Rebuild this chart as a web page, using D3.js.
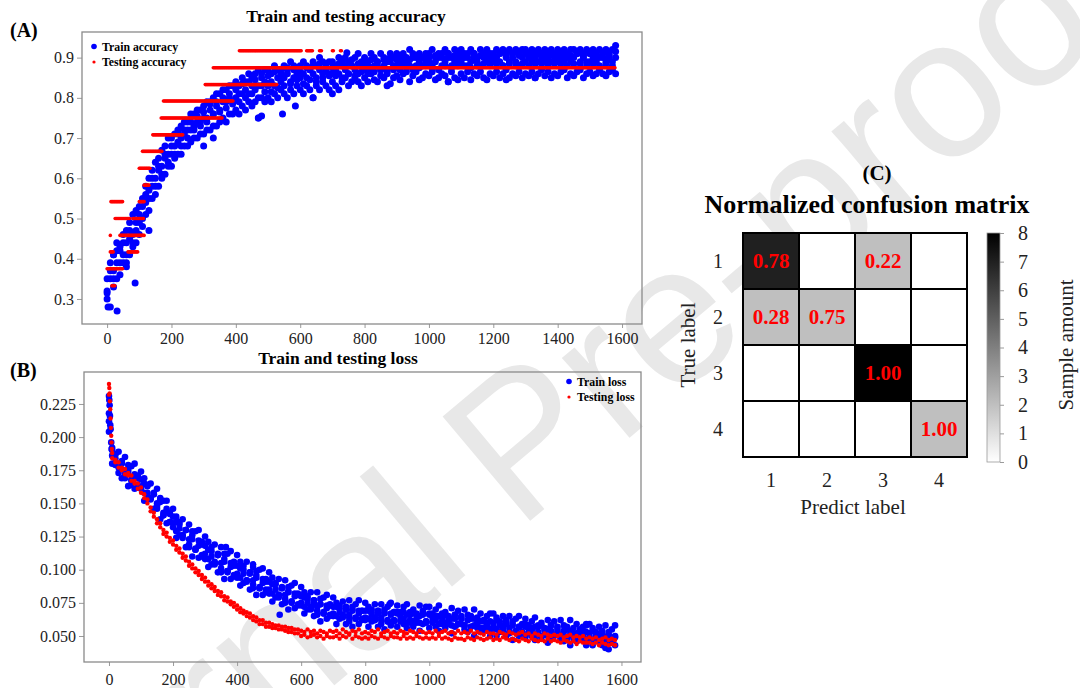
<!DOCTYPE html>
<html>
<head>
<meta charset="utf-8">
<script src="https://cdn.jsdelivr.net/npm/d3@7"></script>
<style>
body { margin: 0; background: #fff; }
svg { display: block; font-family: "Liberation Serif", "Times New Roman", serif; }
</style>
</head>
<body>
<div id="chart"></div>
<script>
// training logs, one value every 10 epochs (0 .. 1580), several samples per step
var epoch_step = 10;
var epoch_ticks = [0, 200, 400, 600, 800, 1000, 1200, 1400, 1600];
var acc_ticks = [0.3, 0.4, 0.5, 0.6, 0.7, 0.8, 0.9];
var loss_ticks = [0.05, 0.075, 0.1, 0.125, 0.15, 0.175, 0.2, 0.225];

var train_acc_lo = [
  0.30, 0.28, 0.33, 0.35, 0.36, 0.39, 0.38, 0.41, 0.43, 0.44,
  0.46, 0.48, 0.51, 0.52, 0.55, 0.56, 0.58, 0.60, 0.61, 0.63,
  0.63, 0.65, 0.66, 0.66, 0.68, 0.68, 0.69, 0.70, 0.70, 0.71,
  0.71, 0.72, 0.72, 0.73, 0.73, 0.74, 0.75, 0.74, 0.76, 0.76,
  0.77, 0.76, 0.78, 0.77, 0.79, 0.78, 0.79, 0.75, 0.80, 0.79,
  0.80, 0.79, 0.81, 0.80, 0.82, 0.81, 0.80, 0.82, 0.81, 0.83,
  0.82, 0.81, 0.83, 0.82, 0.80, 0.83, 0.82, 0.84, 0.83, 0.82,
  0.84, 0.83, 0.82, 0.84, 0.85, 0.83, 0.84, 0.85, 0.84, 0.83,
  0.85, 0.84, 0.86, 0.845, 0.84, 0.855, 0.85, 0.86, 0.835, 0.85,
  0.855, 0.845, 0.86, 0.865, 0.84, 0.855, 0.865, 0.845, 0.85, 0.86,
  0.855, 0.865, 0.845, 0.85, 0.86, 0.855, 0.84, 0.865, 0.85, 0.845,
  0.86, 0.85, 0.865, 0.845, 0.86, 0.855, 0.865, 0.85, 0.845, 0.86,
  0.855, 0.865, 0.85, 0.86, 0.87, 0.85, 0.86, 0.855, 0.865, 0.85,
  0.86, 0.855, 0.865, 0.85, 0.86, 0.87, 0.855, 0.865, 0.85, 0.86,
  0.855, 0.865, 0.87, 0.85, 0.86, 0.855, 0.865, 0.87, 0.85, 0.86,
  0.865, 0.855, 0.86, 0.87, 0.86, 0.855, 0.865, 0.87, 0.86
];
var train_acc_mid = [
  0.32, 0.35, 0.37, 0.39, 0.42, 0.41, 0.44, 0.45, 0.46, 0.49,
  0.49, 0.53, 0.54, 0.57, 0.58, 0.60, 0.62, 0.63, 0.65, 0.66,
  0.66, 0.68, 0.69, 0.70, 0.71, 0.72, 0.72, 0.73, 0.74, 0.74,
  0.75, 0.75, 0.77, 0.76, 0.78, 0.77, 0.79, 0.79, 0.80, 0.79,
  0.80, 0.81, 0.81, 0.82, 0.81, 0.83, 0.82, 0.83, 0.83, 0.84,
  0.83, 0.84, 0.83, 0.85, 0.84, 0.85, 0.86, 0.84, 0.85, 0.86,
  0.85, 0.86, 0.85, 0.87, 0.86, 0.85, 0.87, 0.86, 0.87, 0.86,
  0.86, 0.87, 0.86, 0.88, 0.87, 0.86, 0.88, 0.87, 0.86, 0.88,
  0.87, 0.88, 0.87, 0.88, 0.89, 0.87, 0.88, 0.87, 0.89, 0.88,
  0.88, 0.89, 0.88, 0.89, 0.88, 0.90, 0.88, 0.89, 0.88, 0.89,
  0.89, 0.88, 0.89, 0.90, 0.88, 0.89, 0.90, 0.88, 0.89, 0.90,
  0.89, 0.90, 0.88, 0.89, 0.90, 0.89, 0.88, 0.90, 0.89, 0.90,
  0.89, 0.90, 0.89, 0.88, 0.90, 0.89, 0.90, 0.89, 0.88, 0.90,
  0.89, 0.90, 0.89, 0.90, 0.89, 0.90, 0.89, 0.90, 0.89, 0.90,
  0.89, 0.90, 0.89, 0.90, 0.89, 0.90, 0.91, 0.89, 0.90, 0.89,
  0.89, 0.90, 0.89, 0.90, 0.90, 0.89, 0.90, 0.89, 0.90
];
var train_acc_q = [
  0.315, 0.37, 0.35, 0.42, 0.39, 0.44, 0.41, 0.47, 0.44, 0.47,
  0.51, 0.50, 0.56, 0.55, 0.60, 0.58, 0.63, 0.61, 0.66, 0.64,
  0.68, 0.66, 0.71, 0.68, 0.72, 0.70, 0.74, 0.72, 0.755, 0.73,
  0.765, 0.74, 0.785, 0.76, 0.79, 0.765, 0.80, 0.775, 0.81, 0.785,
  0.82, 0.79, 0.835, 0.80, 0.84, 0.81, 0.845, 0.80, 0.86, 0.815,
  0.855, 0.815, 0.865, 0.825, 0.87, 0.83, 0.875, 0.835, 0.87, 0.845,
  0.865, 0.835, 0.875, 0.845, 0.88, 0.84, 0.885, 0.85, 0.875, 0.855,
  0.875, 0.855, 0.885, 0.85, 0.88, 0.86, 0.895, 0.855, 0.885, 0.865,
  0.885, 0.86, 0.895, 0.865, 0.88, 0.87, 0.895, 0.865, 0.90, 0.87,
  0.895, 0.87, 0.90, 0.875, 0.895, 0.87, 0.905, 0.875, 0.90, 0.88,
  0.90, 0.875, 0.905, 0.87, 0.90, 0.88, 0.91, 0.875, 0.905, 0.88,
  0.905, 0.88, 0.90, 0.875, 0.91, 0.88, 0.905, 0.885, 0.91, 0.88,
  0.905, 0.885, 0.91, 0.88, 0.905, 0.885, 0.91, 0.88, 0.905, 0.885,
  0.91, 0.88, 0.905, 0.885, 0.91, 0.885, 0.905, 0.88, 0.91, 0.885,
  0.905, 0.885, 0.91, 0.88, 0.905, 0.885, 0.91, 0.885, 0.905, 0.88,
  0.91, 0.885, 0.905, 0.88, 0.91, 0.885, 0.905, 0.88, 0.915
];
var train_acc_hi = [
  0.35, 0.39, 0.41, 0.44, 0.43, 0.46, 0.47, 0.49, 0.51, 0.52,
  0.53, 0.55, 0.58, 0.60, 0.62, 0.64, 0.65, 0.67, 0.68, 0.70,
  0.70, 0.71, 0.72, 0.73, 0.74, 0.74, 0.76, 0.76, 0.77, 0.77,
  0.78, 0.79, 0.79, 0.80, 0.81, 0.81, 0.82, 0.82, 0.83, 0.83,
  0.84, 0.83, 0.85, 0.84, 0.86, 0.85, 0.86, 0.87, 0.85, 0.87,
  0.87, 0.86, 0.88, 0.87, 0.86, 0.88, 0.87, 0.89, 0.88, 0.87,
  0.88, 0.89, 0.88, 0.87, 0.89, 0.88, 0.90, 0.89, 0.88, 0.89,
  0.89, 0.88, 0.90, 0.89, 0.90, 0.89, 0.88, 0.90, 0.91, 0.89,
  0.90, 0.89, 0.91, 0.90, 0.89, 0.91, 0.90, 0.89, 0.91, 0.90,
  0.91, 0.90, 0.91, 0.90, 0.92, 0.91, 0.90, 0.91, 0.90, 0.91,
  0.91, 0.92, 0.90, 0.91, 0.91, 0.92, 0.91, 0.90, 0.92, 0.91,
  0.92, 0.91, 0.91, 0.92, 0.91, 0.90, 0.92, 0.91, 0.92, 0.91,
  0.91, 0.92, 0.91, 0.92, 0.91, 0.92, 0.91, 0.92, 0.91, 0.92,
  0.92, 0.91, 0.92, 0.91, 0.92, 0.91, 0.92, 0.91, 0.92, 0.91,
  0.92, 0.91, 0.92, 0.91, 0.92, 0.92, 0.91, 0.92, 0.91, 0.92,
  0.91, 0.92, 0.91, 0.92, 0.91, 0.92, 0.91, 0.92, 0.93
];
// scattered train accuracy points [epoch, value]
var train_acc_extra = [
  [3, 0.28], [31, 0.27], [87, 0.34], [60, 0.39], [20, 0.41], [130, 0.47],
  [300, 0.68], [330, 0.70], [470, 0.75], [480, 0.755], [545, 0.76], [585, 0.78],
  [640, 0.80], [700, 0.81], [745, 0.912], [870, 0.83], [1060, 0.84], [1240, 0.845], [1330, 0.85]
];
// testing accuracy holds the same value over runs of epochs [from, to, value]
var test_acc_runs = [
  [0, 50, 0.375], [15, 25, 0.333], [10, 20, 0.417], [65, 95, 0.417],
  [10, 12, 0.458], [40, 115, 0.458], [25, 70, 0.5], [80, 115, 0.5],
  [12, 50, 0.542], [100, 115, 0.542], [115, 130, 0.583], [100, 135, 0.625],
  [110, 170, 0.667], [142, 236, 0.708], [168, 357, 0.75], [175, 392, 0.792],
  [305, 528, 0.833], [330, 1580, 0.875], [411, 605, 0.917], [620, 640, 0.917],
  [660, 668, 0.917], [700, 705, 0.917], [725, 730, 0.917]
];

var train_loss_lo = [
  0.204, 0.180, 0.179, 0.179, 0.169, 0.169, 0.163, 0.168, 0.161, 0.162,
  0.161, 0.152, 0.154, 0.154, 0.146, 0.146, 0.138, 0.143, 0.135, 0.136,
  0.132, 0.124, 0.126, 0.126, 0.117, 0.117, 0.110, 0.115, 0.109, 0.110,
  0.108, 0.102, 0.104, 0.105, 0.098, 0.098, 0.093, 0.099, 0.093, 0.095,
  0.094, 0.088, 0.090, 0.092, 0.085, 0.086, 0.081, 0.086, 0.081, 0.083,
  0.082, 0.076, 0.079, 0.081, 0.074, 0.075, 0.070, 0.076, 0.071, 0.073,
  0.073, 0.067, 0.070, 0.072, 0.065, 0.066, 0.061, 0.068, 0.063, 0.065,
  0.065, 0.059, 0.063, 0.066, 0.059, 0.061, 0.057, 0.064, 0.059, 0.062,
  0.062, 0.057, 0.061, 0.064, 0.057, 0.059, 0.055, 0.062, 0.058, 0.061,
  0.057, 0.062, 0.059, 0.056, 0.062, 0.057, 0.060, 0.054, 0.059, 0.061,
  0.056, 0.061, 0.057, 0.054, 0.061, 0.056, 0.059, 0.052, 0.057, 0.059,
  0.059, 0.055, 0.053, 0.057, 0.050, 0.057, 0.053, 0.054, 0.057, 0.050,
  0.055, 0.050, 0.053, 0.056, 0.050, 0.052, 0.047, 0.054, 0.050, 0.053,
  0.049, 0.053, 0.050, 0.047, 0.053, 0.048, 0.051, 0.045, 0.049, 0.051,
  0.051, 0.048, 0.046, 0.049, 0.043, 0.050, 0.046, 0.048, 0.050, 0.043,
  0.048, 0.043, 0.046, 0.049, 0.043, 0.045, 0.040, 0.047, 0.043
];
var train_loss_mid = [
  0.218, 0.190, 0.184, 0.177, 0.182, 0.175, 0.174, 0.167, 0.170, 0.169,
  0.162, 0.165, 0.158, 0.154, 0.158, 0.150, 0.151, 0.141, 0.144, 0.142,
  0.135, 0.136, 0.131, 0.126, 0.130, 0.123, 0.123, 0.116, 0.118, 0.119,
  0.112, 0.115, 0.110, 0.106, 0.111, 0.105, 0.106, 0.099, 0.102, 0.103,
  0.097, 0.101, 0.097, 0.092, 0.098, 0.092, 0.094, 0.086, 0.090, 0.091,
  0.085, 0.089, 0.085, 0.081, 0.087, 0.081, 0.083, 0.076, 0.080, 0.081,
  0.075, 0.079, 0.075, 0.071, 0.077, 0.072, 0.074, 0.067, 0.071, 0.073,
  0.067, 0.072, 0.068, 0.065, 0.072, 0.066, 0.069, 0.063, 0.067, 0.069,
  0.064, 0.069, 0.066, 0.062, 0.069, 0.064, 0.067, 0.061, 0.066, 0.068,
  0.068, 0.065, 0.063, 0.066, 0.060, 0.067, 0.063, 0.065, 0.068, 0.061,
  0.067, 0.064, 0.062, 0.065, 0.059, 0.066, 0.062, 0.063, 0.066, 0.059,
  0.064, 0.058, 0.062, 0.065, 0.058, 0.060, 0.056, 0.062, 0.058, 0.061,
  0.057, 0.062, 0.058, 0.055, 0.062, 0.056, 0.059, 0.053, 0.057, 0.059,
  0.059, 0.056, 0.054, 0.057, 0.051, 0.058, 0.054, 0.055, 0.058, 0.051,
  0.056, 0.051, 0.054, 0.057, 0.051, 0.052, 0.048, 0.055, 0.050, 0.053,
  0.049, 0.054, 0.050, 0.047, 0.054, 0.049, 0.051, 0.045, 0.050
];
var train_loss_q = [
  0.212, 0.186, 0.187, 0.173, 0.181, 0.172, 0.176, 0.164, 0.172, 0.164,
  0.168, 0.158, 0.163, 0.153, 0.157, 0.148, 0.153, 0.141, 0.146, 0.136,
  0.140, 0.129, 0.134, 0.124, 0.130, 0.119, 0.126, 0.115, 0.122, 0.111,
  0.118, 0.108, 0.114, 0.104, 0.111, 0.101, 0.108, 0.098, 0.105, 0.096,
  0.103, 0.094, 0.100, 0.091, 0.097, 0.089, 0.096, 0.087, 0.093, 0.085,
  0.091, 0.082, 0.089, 0.079, 0.086, 0.078, 0.084, 0.075, 0.082, 0.074,
  0.080, 0.072, 0.078, 0.070, 0.075, 0.069, 0.074, 0.067, 0.073, 0.066,
  0.072, 0.065, 0.071, 0.064, 0.070, 0.064, 0.070, 0.063, 0.069, 0.063,
  0.069, 0.063, 0.068, 0.062, 0.069, 0.062, 0.068, 0.061, 0.067, 0.062,
  0.067, 0.061, 0.068, 0.060, 0.066, 0.061, 0.067, 0.060, 0.066, 0.060,
  0.066, 0.060, 0.065, 0.059, 0.064, 0.060, 0.065, 0.058, 0.063, 0.059,
  0.063, 0.058, 0.062, 0.057, 0.063, 0.056, 0.061, 0.056, 0.060, 0.055,
  0.060, 0.055, 0.059, 0.054, 0.060, 0.053, 0.058, 0.053, 0.057, 0.052,
  0.057, 0.052, 0.056, 0.051, 0.057, 0.050, 0.055, 0.050, 0.054, 0.050,
  0.054, 0.049, 0.053, 0.048, 0.054, 0.048, 0.052, 0.047, 0.053, 0.047,
  0.052, 0.047, 0.051, 0.046, 0.052, 0.046, 0.050, 0.045, 0.049
];
var train_loss_hi = [
  0.231, 0.192, 0.187, 0.189, 0.180, 0.185, 0.179, 0.178, 0.180, 0.171,
  0.174, 0.169, 0.164, 0.165, 0.157, 0.161, 0.154, 0.152, 0.152, 0.143,
  0.146, 0.140, 0.136, 0.138, 0.130, 0.134, 0.129, 0.129, 0.130, 0.121,
  0.125, 0.121, 0.117, 0.119, 0.112, 0.117, 0.112, 0.112, 0.114, 0.106,
  0.111, 0.106, 0.103, 0.106, 0.098, 0.104, 0.099, 0.100, 0.101, 0.093,
  0.098, 0.094, 0.090, 0.093, 0.086, 0.092, 0.087, 0.088, 0.090, 0.082,
  0.087, 0.083, 0.080, 0.083, 0.077, 0.083, 0.078, 0.079, 0.081, 0.074,
  0.079, 0.075, 0.073, 0.076, 0.070, 0.077, 0.072, 0.074, 0.077, 0.069,
  0.075, 0.072, 0.070, 0.074, 0.067, 0.074, 0.070, 0.072, 0.075, 0.068,
  0.073, 0.068, 0.072, 0.074, 0.068, 0.070, 0.066, 0.073, 0.069, 0.072,
  0.072, 0.067, 0.070, 0.073, 0.067, 0.068, 0.064, 0.071, 0.066, 0.069,
  0.065, 0.070, 0.066, 0.063, 0.070, 0.064, 0.067, 0.061, 0.065, 0.067,
  0.067, 0.064, 0.061, 0.065, 0.059, 0.065, 0.061, 0.063, 0.065, 0.058,
  0.063, 0.058, 0.061, 0.064, 0.058, 0.060, 0.056, 0.062, 0.058, 0.061,
  0.057, 0.062, 0.058, 0.055, 0.062, 0.056, 0.059, 0.053, 0.057, 0.059,
  0.059, 0.056, 0.053, 0.057, 0.051, 0.058, 0.053, 0.055, 0.058
];
var train_loss_extra = [
  [1, 0.228], [2, 0.224], [3, 0.216], [4, 0.209], [5, 0.206], [7, 0.196], [8, 0.191],
  [450, 0.102], [533, 0.066], [365, 0.117], [876, 0.074], [1490, 0.058], [1550, 0.041]
];

var test_loss_a = [
  0.240, 0.188, 0.183, 0.181, 0.177, 0.176, 0.173, 0.171, 0.167, 0.165,
  0.162, 0.157, 0.153, 0.147, 0.143, 0.138, 0.135, 0.130, 0.128, 0.124,
  0.122, 0.118, 0.116, 0.112, 0.110, 0.106, 0.104, 0.101, 0.099, 0.096,
  0.094, 0.091, 0.089, 0.087, 0.084, 0.083, 0.080, 0.079, 0.076, 0.075,
  0.073, 0.071, 0.069, 0.068, 0.067, 0.065, 0.064, 0.062, 0.062, 0.060,
  0.060, 0.059, 0.058, 0.058, 0.057, 0.057, 0.056, 0.056, 0.055, 0.055,
  0.054, 0.053, 0.055, 0.053, 0.054, 0.052, 0.054, 0.053, 0.052, 0.054,
  0.053, 0.054, 0.052, 0.055, 0.053, 0.052, 0.054, 0.053, 0.055, 0.052,
  0.053, 0.052, 0.054, 0.053, 0.055, 0.052, 0.053, 0.054, 0.052, 0.053,
  0.052, 0.054, 0.053, 0.052, 0.054, 0.053, 0.052, 0.054, 0.053, 0.052,
  0.053, 0.052, 0.054, 0.052, 0.053, 0.054, 0.052, 0.053, 0.052, 0.054,
  0.052, 0.053, 0.052, 0.054, 0.052, 0.053, 0.052, 0.051, 0.053, 0.052,
  0.052, 0.051, 0.053, 0.052, 0.051, 0.053, 0.052, 0.051, 0.052, 0.053,
  0.051, 0.052, 0.050, 0.052, 0.051, 0.050, 0.052, 0.051, 0.050, 0.051,
  0.050, 0.051, 0.049, 0.050, 0.051, 0.049, 0.050, 0.049, 0.050, 0.048,
  0.049, 0.048, 0.049, 0.047, 0.048, 0.049, 0.047, 0.048, 0.047
];
var test_loss_b = [
  0.232, 0.184, 0.181, 0.177, 0.175, 0.172, 0.171, 0.167, 0.165, 0.161,
  0.158, 0.154, 0.150, 0.144, 0.140, 0.135, 0.132, 0.127, 0.125, 0.121,
  0.119, 0.115, 0.113, 0.109, 0.107, 0.103, 0.101, 0.098, 0.096, 0.093,
  0.091, 0.088, 0.086, 0.084, 0.081, 0.080, 0.077, 0.076, 0.074, 0.072,
  0.070, 0.068, 0.067, 0.065, 0.064, 0.062, 0.061, 0.059, 0.059, 0.057,
  0.057, 0.056, 0.056, 0.055, 0.055, 0.054, 0.053, 0.053, 0.052, 0.052,
  0.050, 0.051, 0.049, 0.050, 0.051, 0.049, 0.050, 0.048, 0.050, 0.049,
  0.049, 0.050, 0.048, 0.050, 0.049, 0.051, 0.048, 0.050, 0.049, 0.048,
  0.049, 0.048, 0.050, 0.049, 0.048, 0.050, 0.049, 0.048, 0.050, 0.049,
  0.049, 0.048, 0.050, 0.048, 0.049, 0.048, 0.050, 0.049, 0.048, 0.049,
  0.048, 0.049, 0.048, 0.050, 0.048, 0.049, 0.048, 0.047, 0.049, 0.048,
  0.048, 0.047, 0.049, 0.048, 0.047, 0.049, 0.048, 0.047, 0.048, 0.049,
  0.047, 0.048, 0.047, 0.049, 0.048, 0.047, 0.048, 0.047, 0.046, 0.048,
  0.047, 0.046, 0.048, 0.047, 0.046, 0.047, 0.046, 0.048, 0.046, 0.047,
  0.046, 0.045, 0.047, 0.046, 0.045, 0.046, 0.044, 0.046, 0.045, 0.045,
  0.045, 0.044, 0.045, 0.043, 0.045, 0.044, 0.043, 0.044, 0.043
];
var test_loss_extra = [
  [1, 0.237], [2, 0.233], [3, 0.227], [4, 0.221], [5, 0.214], [6, 0.207], [7, 0.201], [8, 0.196], [9, 0.191]
];

// confusion matrix
var cm_labels = [1, 2, 3, 4];
var cm_counts = [[7, 0, 2, 0], [2, 2, 0, 0], [0, 0, 8, 0], [0, 0, 0, 2]];
var cm_text = [["0.78", "", "0.22", ""], ["0.28", "0.75", "", ""], ["", "", "1.00", ""], ["", "", "", "1.00"]];
var cbar_ticks = [0, 1, 2, 3, 4, 5, 6, 7, 8];

var serif = "'Liberation Serif', 'Times New Roman', serif";

function to_points(arrs) {
    var pts = [];
    arrs.forEach(function (arr) {
        arr.forEach(function (v, i) { pts.push([i * epoch_step, v]); });
    });
    return pts;
}

var svg = d3.select("#chart").append("svg")
    .attr("width", 1080)
    .attr("height", 688);

// watermark behind everything
svg.append("text")
    .attr("transform", "translate(520,440) rotate(-40)")
    .attr("text-anchor", "middle")
    .attr("dominant-baseline", "central")
    .style("font-family", "'Liberation Sans', Arial, sans-serif")
    .style("font-size", "198px")
    .attr("fill", "#e8e8e8")
    .text("Journal Pre-proof");

function style_axis(g, size) {
    g.attr("font-family", serif).attr("font-size", null);
    g.select(".domain").remove();
    g.selectAll(".tick line").attr("stroke", "#9a9a9a");
    g.selectAll(".tick text").attr("fill", "#222")
        .style("font-family", serif).style("font-size", size + "px");
}

function scatter_panel(opt) {
    var x = d3.scaleLinear().domain(opt.xdom).range([opt.left, opt.right]);
    var y = d3.scaleLinear().domain(opt.ydom).range([opt.bottom, opt.top]);

    svg.append("g").attr("transform", "translate(0," + opt.bottom + ")")
        .call(d3.axisBottom(x).tickValues(epoch_ticks).tickFormat(d3.format("d")).tickSize(4).tickPadding(opt.xpad))
        .call(style_axis, 16);
    svg.append("g").attr("transform", "translate(" + opt.left + ",0)")
        .call(d3.axisLeft(y).tickValues(opt.yticks).tickFormat(d3.format(opt.yfmt)).tickSize(5).tickPadding(3))
        .call(style_axis, 16);

    svg.append("g").selectAll("circle")
        .data(opt.blue).enter().append("circle")
        .attr("cx", function (d) { return x(d[0]); })
        .attr("cy", function (d) { return y(d[1]); })
        .attr("r", opt.blue_r)
        .attr("fill", "#0000ff");
    svg.append("g").selectAll("circle")
        .data(opt.red).enter().append("circle")
        .attr("cx", function (d) { return x(d[0]); })
        .attr("cy", function (d) { return y(d[1]); })
        .attr("r", opt.red_r)
        .attr("fill", "#ff0000");

    svg.append("rect")
        .attr("x", opt.left).attr("y", opt.top)
        .attr("width", opt.right - opt.left).attr("height", opt.bottom - opt.top)
        .attr("fill", "none").attr("stroke", "#8a8a8a").attr("stroke-width", 1.3);

    svg.append("text").attr("x", opt.title_x).attr("y", opt.title_y)
        .attr("text-anchor", "middle").style("font-weight", "bold").style("font-size", "17.5px")
        .text(opt.title);
    svg.append("text").attr("x", 10).attr("y", opt.tag_y)
        .style("font-weight", "bold").style("font-size", "20px")
        .text(opt.tag);

    var leg = svg.append("g");
    opt.legend.forEach(function (l, i) {
        leg.append("circle").attr("cx", opt.leg_x).attr("cy", opt.leg_y + i * 15.5)
            .attr("r", i == 0 ? 2.8 : 1.6).attr("fill", i == 0 ? "#0000ff" : "#ff0000");
        leg.append("text").attr("x", opt.leg_x + 8).attr("y", opt.leg_y + i * 15.5 + 4)
            .style("font-weight", "bold").style("font-size", "11.8px").text(l);
    });
}

// (A) accuracy
var acc_red = [];
test_acc_runs.forEach(function (r) {
    for (var e = r[0]; e <= r[1]; e += 3) acc_red.push([e, r[2]]);
});
scatter_panel({
    left: 82, right: 642, top: 32, bottom: 324,
    xdom: [-78, 1662], ydom: [0.2378, 0.9637],
    yticks: acc_ticks, yfmt: ".1f", xpad: 5,
    blue: to_points([train_acc_lo, train_acc_mid, train_acc_q, train_acc_hi]).concat(train_acc_extra),
    blue_r: 3.5,
    red: acc_red, red_r: 1.8,
    title: "Train and testing accuracy", title_x: 346, title_y: 22,
    tag: "(A)", tag_y: 37,
    legend: ["Train accuracy", "Testing accuracy"], leg_x: 94, leg_y: 46.5
});

// (B) loss
scatter_panel({
    left: 84, right: 641, top: 372, bottom: 662,
    xdom: [-78, 1661], ydom: [0.0304, 0.2491],
    yticks: loss_ticks, yfmt: ".3f", xpad: 8,
    blue: to_points([train_loss_lo, train_loss_mid, train_loss_q, train_loss_hi]).concat(train_loss_extra),
    blue_r: 3.3,
    red: to_points([test_loss_a, test_loss_b]).concat(test_loss_extra), red_r: 2.2,
    title: "Train and testing loss", title_x: 338, title_y: 364,
    tag: "(B)", tag_y: 377,
    legend: ["Train loss", "Testing loss"], leg_x: 569, leg_y: 381.5
});

// (C) confusion matrix
var cx = d3.scaleBand().domain(cm_labels).range([743, 967]);
var cy = d3.scaleBand().domain(cm_labels).range([233, 457]);
var shade = d3.scaleLinear().domain([0, 8]).range(["#ffffff", "#000000"]);

var cells = [];
cm_counts.forEach(function (row, i) {
    row.forEach(function (c, j) {
        cells.push({ row: cm_labels[i], col: cm_labels[j], count: c, txt: cm_text[i][j] });
    });
});

var cm = svg.append("g");
cm.selectAll("rect").data(cells).enter().append("rect")
    .attr("x", function (d) { return cx(d.col); })
    .attr("y", function (d) { return cy(d.row); })
    .attr("width", cx.bandwidth()).attr("height", cy.bandwidth())
    .attr("fill", function (d) { return shade(d.count); })
    .attr("stroke", "#000").attr("stroke-width", 2);
cm.selectAll("text.val").data(cells).enter().append("text")
    .attr("class", "val")
    .attr("x", function (d) { return cx(d.col) + cx.bandwidth() / 2; })
    .attr("y", function (d) { return cy(d.row) + cy.bandwidth() / 2 + 7; })
    .attr("text-anchor", "middle")
    .attr("fill", "#ff0000").style("font-weight", "bold").style("font-size", "21px")
    .text(function (d) { return d.txt; });

cm_labels.forEach(function (l) {
    cm.append("text").attr("x", 718).attr("y", cy(l) + cy.bandwidth() / 2 + 7)
        .attr("text-anchor", "middle").style("font-size", "20px").attr("fill", "#222").text(l);
    cm.append("text").attr("x", cx(l) + cx.bandwidth() / 2).attr("y", 487)
        .attr("text-anchor", "middle").style("font-size", "20px").attr("fill", "#222").text(l);
});

cm.append("text").attr("x", 853).attr("y", 514).attr("text-anchor", "middle")
    .style("font-size", "21px").attr("fill", "#222").text("Predict label");
cm.append("text").attr("transform", "translate(695,345) rotate(-90)").attr("text-anchor", "middle")
    .style("font-size", "21px").attr("fill", "#222").text("True label");
cm.append("text").attr("x", 877).attr("y", 180).attr("text-anchor", "middle")
    .style("font-weight", "bold").style("font-size", "21px").text("(C)");
cm.append("text").attr("x", 867).attr("y", 213).attr("text-anchor", "middle")
    .style("font-weight", "bold").style("font-size", "26px").text("Normalized confusion matrix");

// colour bar
var cb = d3.scaleLinear().domain([0, 8]).range([462, 233]);
var grad = svg.append("defs").append("linearGradient")
    .attr("id", "cbar").attr("x1", 0).attr("y1", 1).attr("x2", 0).attr("y2", 0);
grad.append("stop").attr("offset", "0%").attr("stop-color", shade(0));
grad.append("stop").attr("offset", "100%").attr("stop-color", shade(8));
svg.append("rect").attr("x", 987).attr("y", cb(8)).attr("width", 13).attr("height", cb(0) - cb(8))
    .attr("fill", "url(#cbar)").attr("stroke", "#999").attr("stroke-width", 0.8);
svg.append("g").attr("transform", "translate(1000,0)")
    .call(d3.axisRight(cb).tickValues(cbar_ticks).tickSize(4).tickPadding(19))
    .call(style_axis, 20)
    .call(function (g) { g.selectAll(".tick text").attr("text-anchor", "middle"); });
svg.append("text").attr("transform", "translate(1073,345) rotate(-90)").attr("text-anchor", "middle")
    .style("font-size", "21px").attr("fill", "#222").text("Sample amount");
</script>
</body>
</html>
